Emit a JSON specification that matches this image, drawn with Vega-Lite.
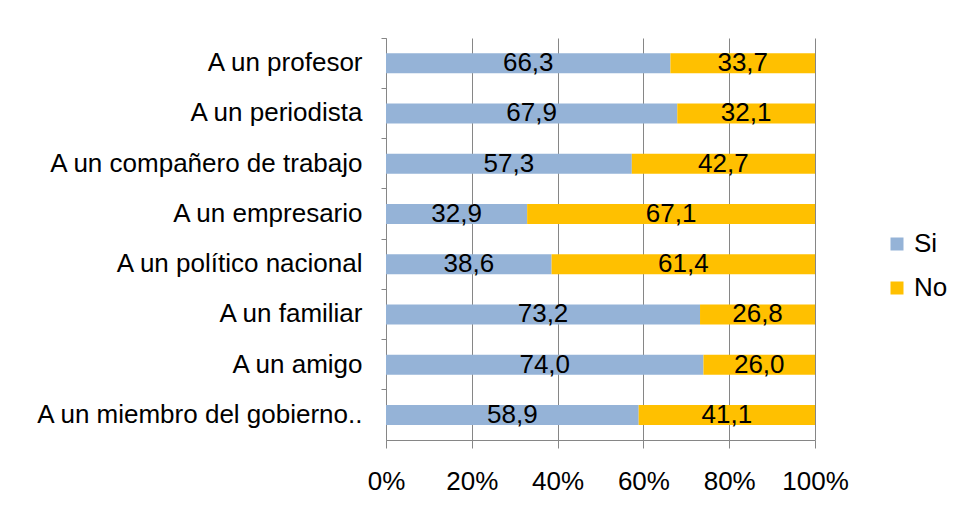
{
  "$schema": "https://vega.github.io/schema/vega-lite/v6.json",
  "autosize": "none",
  "width": 429,
  "height": 402,
  "padding": {"left": 386, "top": 38, "right": 146, "bottom": 79},
  "background": "white",
  "config": {
    "font": "Liberation Sans",
    "view": {"stroke": null},
    "locale": {"number": {"decimal": ",", "thousands": ".", "grouping": [3], "currency": ["", " €"]}}
  },
  "data": {
    "values": [
      {"cat": "A un profesor", "serie": "Si", "valor": 66.3},
      {"cat": "A un profesor", "serie": "No", "valor": 33.7},
      {"cat": "A un periodista", "serie": "Si", "valor": 67.9},
      {"cat": "A un periodista", "serie": "No", "valor": 32.1},
      {"cat": "A un compañero de trabajo", "serie": "Si", "valor": 57.3},
      {"cat": "A un compañero de trabajo", "serie": "No", "valor": 42.7},
      {"cat": "A un empresario", "serie": "Si", "valor": 32.9},
      {"cat": "A un empresario", "serie": "No", "valor": 67.1},
      {"cat": "A un político nacional", "serie": "Si", "valor": 38.6},
      {"cat": "A un político nacional", "serie": "No", "valor": 61.4},
      {"cat": "A un familiar", "serie": "Si", "valor": 73.2},
      {"cat": "A un familiar", "serie": "No", "valor": 26.8},
      {"cat": "A un amigo", "serie": "Si", "valor": 74.0},
      {"cat": "A un amigo", "serie": "No", "valor": 26.0},
      {"cat": "A un miembro del gobierno..", "serie": "Si", "valor": 58.9},
      {"cat": "A un miembro del gobierno..", "serie": "No", "valor": 41.1}
    ]
  },
  "transform": [
    {"stack": "valor", "groupby": ["cat"], "sort": [{"field": "serie", "order": "descending"}], "as": ["x0", "x1"]},
    {"calculate": "(datum.x0 + datum.x1) / 2", "as": "xmid"}
  ],
  "encoding": {
    "y": {
      "field": "cat",
      "type": "nominal",
      "sort": ["A un profesor", "A un periodista", "A un compañero de trabajo", "A un empresario", "A un político nacional", "A un familiar", "A un amigo", "A un miembro del gobierno.."],
      "scale": {"paddingInner": 0, "paddingOuter": 0},
      "axis": {
        "title": null,
        "bandPosition": 0,
        "domainColor": "#868686",
        "tickColor": "#868686",
        "tickSize": 5,
        "labelFontSize": 26,
        "labelColor": "black",
        "labelPadding": 19,
        "labelLimit": 400,
        "grid": false
      }
    }
  },
  "layer": [
    {
      "mark": {"type": "bar", "size": 20},
      "encoding": {
        "x": {
          "field": "x0",
          "type": "quantitative",
          "scale": {"domain": [0, 100], "nice": false},
          "axis": {
            "title": null,
            "values": [0, 20, 40, 60, 80, 100],
            "labelExpr": "datum.value + '%'",
            "grid": true,
            "gridColor": "#868686",
            "gridOpacity": 1,
            "domainColor": "#868686",
            "tickColor": "#868686",
            "tickSize": 8,
            "labelFontSize": 26,
            "labelColor": "black",
            "labelPadding": 20,
            "labelFlush": false
          }
        },
        "x2": {"field": "x1"},
        "color": {
          "field": "serie",
          "type": "nominal",
          "scale": {"domain": ["Si", "No"], "range": ["#95B3D7", "#FFC000"]},
          "legend": {
            "title": null,
            "orient": "none",
            "legendX": 498,
            "legendY": 193,
            "symbolType": "square",
            "symbolSize": 169,
            "symbolStrokeWidth": 0,
            "symbolOpacity": 1,
            "labelFontSize": 26,
            "labelColor": "black",
            "labelOffset": 4,
            "rowPadding": 18
          }
        }
      }
    },
    {
      "mark": {"type": "text", "fontSize": 26, "color": "black", "align": "center", "baseline": "middle"},
      "encoding": {
        "x": {"field": "xmid", "type": "quantitative"},
        "text": {"field": "valor", "type": "quantitative", "format": ".1f"}
      }
    }
  ]
}
